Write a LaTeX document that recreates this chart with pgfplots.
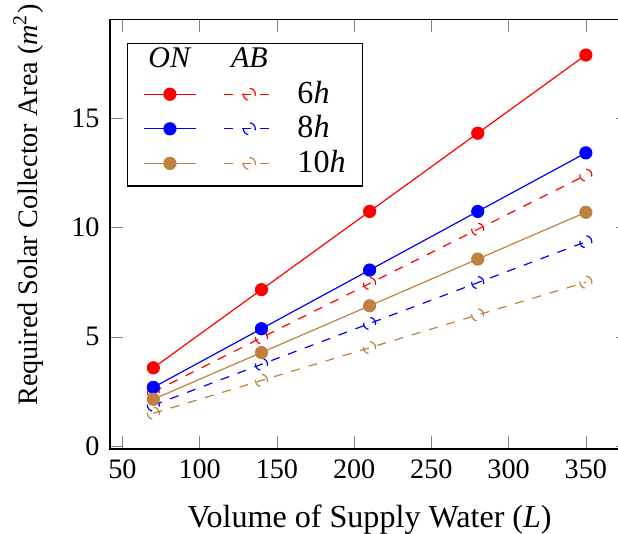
\documentclass[border=0pt]{standalone}
\usepackage{fontspec}
\setmainfont{Liberation Serif}[ItalicFont={Liberation Serif Italic}]
\usepackage{pgfplots}
\pgfplotsset{compat=1.18}
\newcommand{\gapA}{\hspace*{5pt}}
\newcommand{\lab}[1]{\hspace*{5.3pt}#1\hspace*{-1.7pt}}
\begin{document}
\begin{tikzpicture}
\begin{axis}[
  scale only axis,
  width=173pt, height=143.3pt,
  /pgf/number format/assume math mode=true,
  xtick={50,100,150,200,250,300,350},
  xticklabels={50,100,150,200,250,300,350},
  ytick={0,5,10,15},
  yticklabels={0,5,10,15},
  tick label style={font=\fontsize{9.4pt}{11pt}\selectfont},
  xlabel={Volume of Supply Water (\textit{L})},
  ylabel={Required Solar Collector Area (\textit{m}\textsuperscript{2})},
  xlabel style={font=\fontsize{10.7pt}{13pt}\selectfont, at={(axis description cs:0.5,-0.1815)}, anchor=base},
  ylabel style={font=\fontsize{9.4pt}{11pt}\selectfont, at={(axis description cs:-0.139,0.568)}, anchor=base},
  legend columns=2,
  legend style={at={(0.033,0.944)}, anchor=north west, draw=black,
    font=\fontsize{10.7pt}{13pt}\selectfont,
    inner xsep=5.3pt, inner ysep=1.07pt, row sep=-1.4pt},
  legend cell align=left,
]
\addlegendimage{legend image code/.code={\pgftext[x=0.3cm,y=0cm]{\textit{ON}}\path (0.3cm,-6.9pt);}}
\addlegendentry{\gapA}
\addlegendimage{legend image code/.code={\pgftext[x=0.3cm,y=0cm]{\textit{AB}}\path (0.3cm,-6.9pt);}}
\addlegendentry{\mbox{}}

\addplot[red, mark=*] coordinates {(70,3.58) (140,7.16) (210,10.74) (280,14.32) (350,17.9)};
\addlegendentry{\gapA}
\addplot[red, dashed, mark=o] coordinates {(70,2.48) (140,4.96) (210,7.44) (280,9.92) (350,12.4)};
\addlegendentry{\lab{6\textit{h}}}
\addplot[blue, mark=*] coordinates {(70,2.685) (140,5.37) (210,8.055) (280,10.74) (350,13.42)};
\addlegendentry{\gapA}
\addplot[blue, dashed, mark=o] coordinates {(70,1.87) (140,3.74) (210,5.61) (280,7.48) (350,9.35)};
\addlegendentry{\lab{8\textit{h}}}
\addplot[brown, mark=*] coordinates {(70,2.14) (140,4.28) (210,6.42) (280,8.56) (350,10.7)};
\addlegendentry{\gapA}
\addplot[brown, dashed, mark=o] coordinates {(70,1.5) (140,3.0) (210,4.5) (280,6.0) (350,7.5)};
\addlegendentry{\lab{10\textit{h}}}
\end{axis}
\pgfresetboundingbox
\path[use as bounding box] ([shift={(-36.7pt,-28.3pt)}]current axis.south west) rectangle ([shift={(-3.7pt,6.4pt)}]current axis.north east);
\end{tikzpicture}
\end{document}
